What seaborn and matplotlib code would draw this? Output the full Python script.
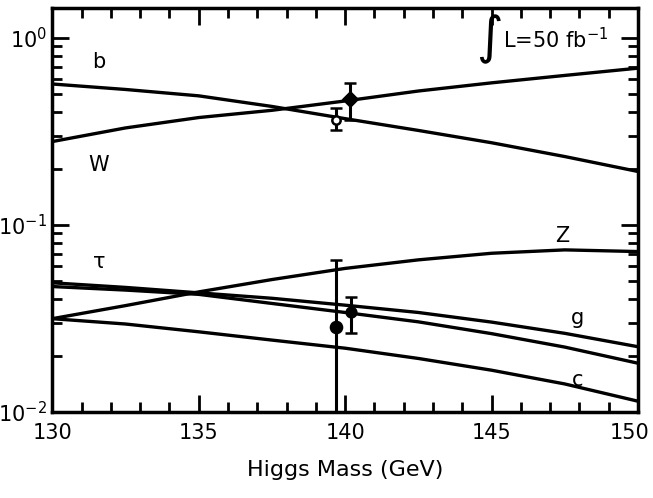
import numpy as np
import pandas as pd
import matplotlib
matplotlib.use("Agg")
import matplotlib.pyplot as plt
import matplotlib.transforms as mtransforms
import seaborn as sns
from matplotlib.ticker import MultipleLocator, LogLocator, NullFormatter, FixedFormatter, FixedLocator

# ---- data ----
mass = [130, 132.5, 135, 137.5, 140, 142.5, 145, 147.5, 150]
br_b = [0.567, 0.53, 0.49, 0.43, 0.37, 0.32, 0.275, 0.232, 0.193]
br_w = [0.279, 0.33, 0.375, 0.41, 0.46, 0.52, 0.575, 0.63, 0.689]
br_z = [0.0315, 0.037, 0.0438, 0.051, 0.0585, 0.065, 0.0705, 0.0735, 0.072]
br_g = [0.049, 0.0463, 0.0433, 0.0405, 0.0372, 0.0340, 0.0302, 0.0263, 0.0223]
br_tau = [0.0468, 0.0448, 0.0425, 0.038, 0.034, 0.0303, 0.0262, 0.0222, 0.0182]
br_c = [0.0315, 0.0295, 0.0268, 0.0242, 0.0219, 0.0193, 0.0167, 0.0141, 0.0114]

# measured points: (mass, value, upper, lower)
pt_w = (140.15, 0.47, 0.573, 0.364)
pt_b = (139.7, 0.364, 0.421, 0.322)
pt_low1 = (139.7, 0.0285, 0.065, 0.001)
pt_low2 = (140.2, 0.0343, 0.0412, 0.0264)

labels = ["b", "W", "τ", "Z", "g", "c"]
label_x = [131.6, 131.6, 131.6, 147.4, 147.95, 147.95]
label_y = [0.744, 0.209, 0.0634, 0.0874, 0.0319, 0.0148]

x_ticks = [130, 135, 140, 145, 150]
x_ticklabels = ["130", "135", "140", "145", "150"]

sns.set_theme(style="ticks")
plt.rcParams['font.family'] = ['DejaVu Sans']
plt.rcParams['text.color'] = 'black'

fig = plt.figure(figsize=(6.53, 4.98), dpi=100)
ax = fig.add_axes([0.080, 0.173, 0.897, 0.811])

df = pd.DataFrame({"mass": mass, "b": br_b, "W": br_w, "Z": br_z,
                   "g": br_g, "tau": br_tau, "c": br_c})
for col in ["b", "W", "Z", "g", "tau", "c"]:
    sns.lineplot(data=df, x="mass", y=col, ax=ax, color="black", lw=2.4)

def draw_pt(p, filled=True, marker="o", ms=7):
    x, y, hi, lo = p
    ax.errorbar([x], [y], yerr=[[y - lo], [hi - y]], fmt=marker, color="black",
                mfc="black" if filled else "white", mec="black", mew=1.8,
                ms=ms, elinewidth=2.2, capsize=4, capthick=3, zorder=5)

draw_pt(pt_w, True, "D", 7)
draw_pt(pt_b, False, "o", 6)
draw_pt(pt_low1, True, "o", 8)
draw_pt(pt_low2, True, "o", 7)

for t, x, y in zip(labels, label_x, label_y):
    ax.text(x, y, t, fontsize=15, ha="center", va="center", color="black")

ax.text(144.9, 0.98, r"$\int$", fontsize=26, ha="center", va="center", color="black")
ax.text(145.4, 0.98, r"L=50 fb$^{-1}$", fontsize=15, ha="left",
        va="center", color="black")

ax.set_yscale("log")
ax.set_xlim(130, 150)
ax.set_ylim(0.01, 1.446)
ax.set_xticks(x_ticks)
ax.set_xticklabels(x_ticklabels)
ax.xaxis.set_minor_locator(MultipleLocator(1))
ax.yaxis.set_major_locator(FixedLocator([0.01, 0.1, 1.0]))
ax.yaxis.set_major_formatter(FixedFormatter([r"10$^{-2}$", r"10$^{-1}$", r"10$^{0}$"]))
ax.yaxis.set_minor_locator(LogLocator(base=10, subs=np.arange(2, 10)))
ax.yaxis.set_minor_formatter(NullFormatter())
ax.tick_params(which="both", direction="in", top=True, right=True,
               colors="black", labelsize=15, width=2)
ax.tick_params(which="major", length=12)
ax.tick_params(which="minor", length=7)
ax.tick_params(axis="x", pad=8)
# keep last x label inside the figure
lab = ax.get_xticklabels()[-1]
lab.set_transform(lab.get_transform() + mtransforms.ScaledTranslation(-6 / 72, 0, fig.dpi_scale_trans))
for s in ax.spines.values():
    s.set_linewidth(2.5)
    s.set_color("black")
ax.set_xlabel("Higgs Mass (GeV)", fontsize=16, labelpad=12, color="black")
ax.set_ylabel("")
fig.savefig("out.png", dpi=100)
